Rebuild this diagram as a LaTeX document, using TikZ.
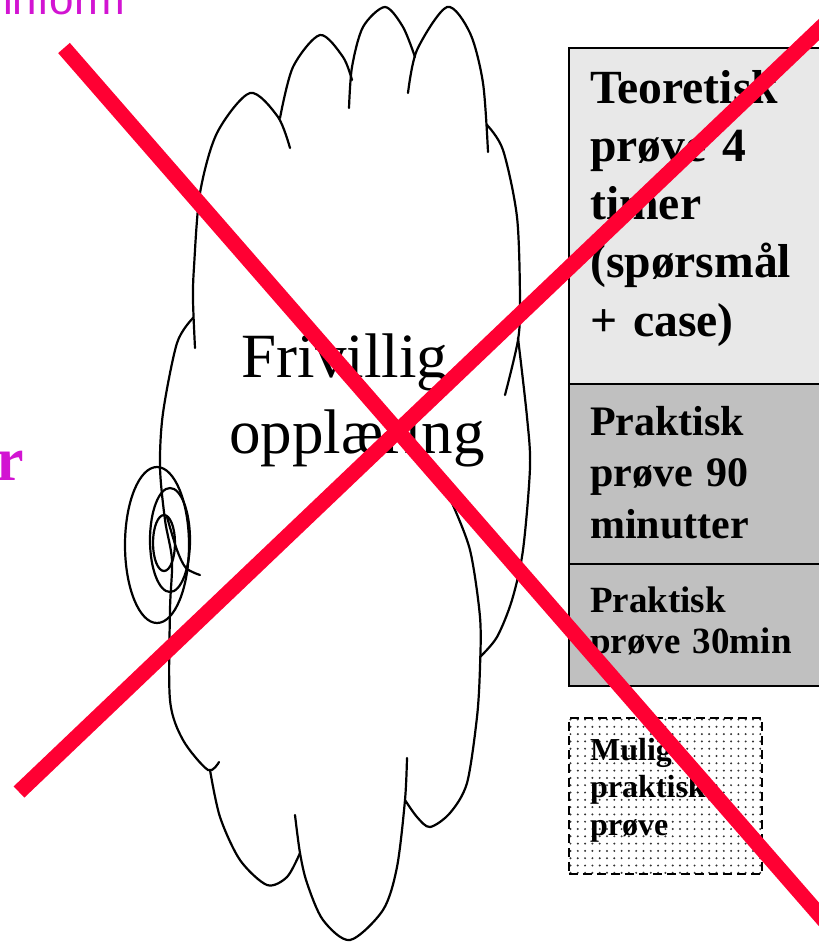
\documentclass[tikz,border=0pt]{standalone}
\usepackage{fontspec}
\setmainfont{Liberation Serif}
\newfontfamily\headsans{Liberation Sans}
\begin{document}
\begin{tikzpicture}[
    x=1pt, y=-1pt,
    cloudline/.style={line width=2.2pt, draw=black, line cap=round},
    exambox/.style={draw=black, line width=1.8pt, anchor=north west, inner sep=0pt},
    examtext/.style={anchor=base west, inner sep=0pt, align=left, text width=240pt},
    crossline/.style={line width=15.5pt, draw=crossred}
]
\definecolor{crossred}{RGB}{255,0,51}
\definecolor{infomagenta}{RGB}{210,20,210}
\definecolor{lightbox}{RGB}{232,232,232}
\definecolor{midbox}{RGB}{192,192,192}

\useasboundingbox (0,0) rectangle (819,943);
\clip (0,0) rectangle (819,943);

% ======================
% Cut-off magenta texts
% ======================
\node[anchor=base west, inner sep=0pt, text=infomagenta,
      font=\headsans\fontsize{44}{50}\selectfont] (inform) at (3,14) {inform};
\node[anchor=base east, inner sep=0pt, text=infomagenta,
      font=\bfseries\fontsize{62}{70}\selectfont] (rletter) at (24,480) {r};

% ======================
% Cloud outline (lobes)
% ======================
\draw[cloudline] plot[smooth] coordinates {(195,348) (193,300) (194,267) (200,193) (217,133) (250,93) (278,117) (290,148)};
\draw[cloudline] plot[smooth] coordinates {(280,118) (293,67) (320,35) (343,57) (352,80)};
\draw[cloudline] plot[smooth] coordinates {(349,108) (352,67) (363,27) (385,7) (403,27) (415,57)};
\draw[cloudline] plot[smooth] coordinates {(408,93) (417,50) (447,7) (470,33) (483,83) (488,152)};
\draw[cloudline] plot[smooth] coordinates {(487,125) (503,150) (517,217) (520,300) (518,340) (505,395)};
\draw[cloudline] plot[smooth] coordinates {(518,338) (527,417) (530,467) (523,550) (512,600) (497,637) (480,657)};
\draw[cloudline] plot[smooth] coordinates {(452,503) (470,550) (480,617) (480,667) (477,717) (467,783) (450,813) (430,827) (417,817) (405,800)};
\draw[cloudline] plot[smooth] coordinates {(407,758) (405,800) (397,867) (383,910) (350,940) (323,920) (307,883) (300,853) (295,815)};
\draw[cloudline] plot[smooth] coordinates {(210,770) (220,817) (240,860) (267,885) (287,877) (300,853)};
\draw[cloudline] plot[smooth] coordinates {(193,318) (177,343) (163,413) (160,467) (165,520) (172,560) (170,610) (170,700) (183,740) (208,770) (219,762)};

% Tail bubbles
\draw[cloudline] (157,545) ellipse [x radius=32, y radius=78];
\draw[cloudline] (170,540) ellipse [x radius=20, y radius=52];
\draw[cloudline] (164,543) ellipse [x radius=11, y radius=28];
\draw[cloudline] plot[smooth] coordinates {(167,517) (177,550) (186,568) (200,575)};

% Cloud text
\node[anchor=base, inner sep=0pt, font=\fontsize{63}{76}\selectfont] (frivillig) at (345,377) {Frivillig};
\node[anchor=base, inner sep=0pt, font=\fontsize{63}{76}\selectfont] (opplaering) at (357,453) {opplæring};

% ======================
% Exam boxes
% ======================
\node[exambox, fill=lightbox, minimum width=272pt, minimum height=336pt] (teoretisk) at (568,47) {};
\node[exambox, fill=midbox, minimum width=272pt, minimum height=180pt] (praktisk90) at (568,383) {};
\node[exambox, fill=midbox, minimum width=272pt, minimum height=122pt] (praktisk30) at (568,563) {};

\node[examtext, font=\bfseries\fontsize{47.6}{58.3}\selectfont] (teoretisktext) at (590,103)
    {Teoretisk\\prøve 4\\timer\\(spørsmål\\+ case)};
\node[examtext, font=\bfseries\fontsize{42}{51.5}\selectfont] (praktisk90text) at (590,435)
    {Praktisk\\prøve 90\\minutter};
\node[examtext, font=\bfseries\fontsize{37}{41}\selectfont] (praktisk30text) at (590,612)
    {Praktisk\\prøve 30min};

% Optional practical test (dotted fill)
\begin{scope}
\clip (568,717) rectangle (761,873);
\foreach \i in {0,...,27} {
    \foreach \j in {0,...,22} {
        \fill[black!80] (570.5+\i*7.3, 719.5+\j*7.3) circle (1.1);
    }
}
\end{scope}
\node[exambox, dash pattern=on 9pt off 5pt, line width=1.8pt,
      minimum width=193pt, minimum height=156pt] (muligbox) at (568,717) {};
\node[examtext, font=\bfseries\fontsize{32}{37.5}\selectfont] (muligtext) at (590,760)
    {Mulig\\praktisk\\prøve};

% ======================
% Red cross
% ======================
\coordinate (crossA1) at (64,48);
\coordinate (crossA2) at (850,950);
\coordinate (crossB1) at (19,792);
\coordinate (crossB2) at (850,0);
\draw[crossline] (crossA1) -- (crossA2);
\draw[crossline] (crossB1) -- (crossB2);

\end{tikzpicture}
\end{document}
